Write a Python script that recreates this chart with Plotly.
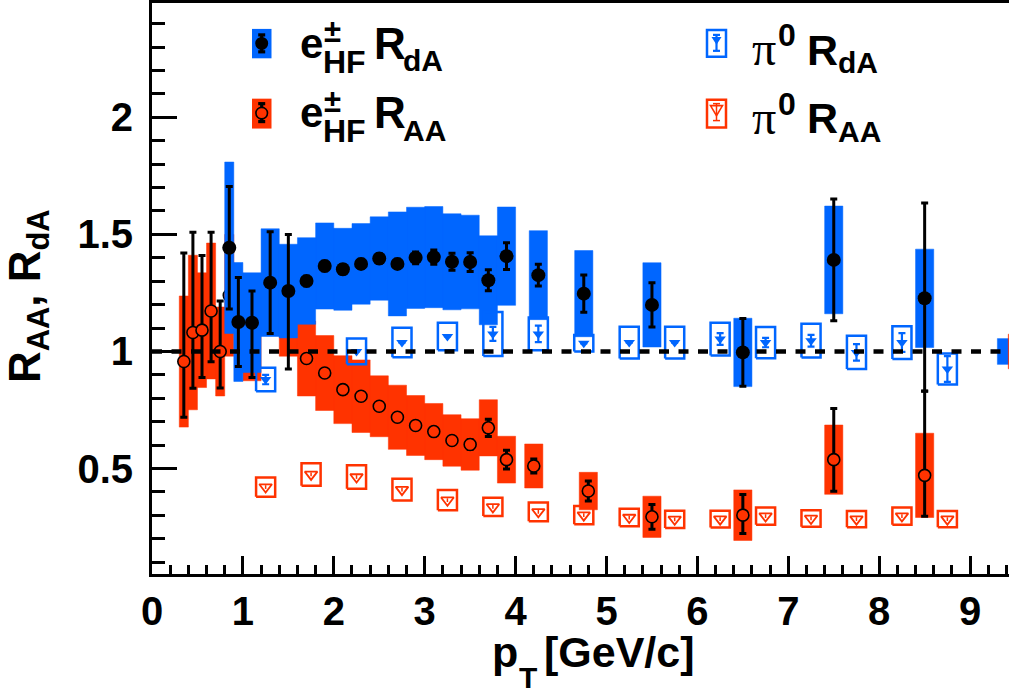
import plotly.graph_objects as go

# ---------------- data ----------------
# heavy-flavour electrons, d+Au
edA_pt = [0.85, 0.95, 1.1, 1.3, 1.5, 1.7, 1.9, 2.1, 2.3, 2.5, 2.7, 2.9, 3.1, 3.3, 3.5,
          3.7, 3.9, 4.25, 4.75, 5.5, 6.5, 7.5, 8.5]
edA_val = [1.443, 1.126, 1.123, 1.294, 1.258, 1.301, 1.365, 1.351, 1.374, 1.397, 1.374,
           1.400, 1.403, 1.383, 1.382, 1.304, 1.407, 1.326, 1.247, 1.199, 0.996, 1.391, 1.227]
edA_stat_hi = [0.262, 0.19, 0.135, 0.217, 0.242, 0.02, 0.02, 0.02, 0.02, 0.02, 0.02,
               0.025, 0.03, 0.036, 0.04, 0.045, 0.057, 0.046, 0.08, 0.094, 0.145, 0.26, 0.407]
edA_stat_lo = [0.262, 0.19, 0.234, 0.217, 0.333, 0.02, 0.02, 0.02, 0.02, 0.02, 0.02,
               0.025, 0.03, 0.036, 0.04, 0.045, 0.057, 0.046, 0.08, 0.094, 0.145, 0.26, 0.397]
edA_sys = [0.366, 0.254, 0.213, 0.23, 0.2, 0.185, 0.184, 0.175, 0.172, 0.178, 0.222,
           0.216, 0.216, 0.205, 0.2, 0.19, 0.21, 0.19, 0.184, 0.18, 0.146, 0.23, 0.21]

# heavy-flavour electrons, Au+Au
eAA_pt = [0.35, 0.45, 0.55, 0.65, 0.75, 0.85, 1.1, 1.5, 1.7, 1.9, 2.1, 2.3, 2.5, 2.7,
          2.9, 3.1, 3.3, 3.5, 3.7, 3.9, 4.2, 4.8, 5.5, 6.5, 7.5, 8.5]
eAA_val = [0.957, 1.081, 1.091, 1.173, 1.0, 1.24, 1.1, 1.2, 0.970, 0.908, 0.837, 0.809,
           0.766, 0.719, 0.684, 0.658, 0.620, 0.603, 0.674, 0.538, 0.511, 0.404, 0.294,
           0.301, 0.538, 0.471]
eAA_stat_hi = [0.464, 0.428, 0.319, 0.336, 0.216, 0.1, 0.1, 0.1, 0.015, 0.015, 0.015,
               0.015, 0.015, 0.015, 0.015, 0.015, 0.015, 0.02, 0.037, 0.04, 0.03, 0.043,
               0.053, 0.088, 0.219, 0.36]
eAA_stat_lo = [0.238, 0.238, 0.202, 0.217, 0.156, 0.1, 0.1, 0.1, 0.015, 0.015, 0.015,
               0.015, 0.015, 0.015, 0.015, 0.015, 0.015, 0.02, 0.037, 0.04, 0.03, 0.043,
               0.053, 0.078, 0.135, 0.175]
eAA_sys = [0.28, 0.33, 0.245, 0.29, 0.19, 0.26, 0.225, 0.22, 0.16, 0.16, 0.145, 0.155,
           0.13, 0.137, 0.128, 0.12, 0.11, 0.11, 0.12, 0.1, 0.094, 0.08, 0.088, 0.108,
           0.148, 0.18]

# neutral pions, d+Au (None: statistical error smaller than the marker)
pidA_pt = [1.25, 2.25, 2.75, 3.25, 3.75, 4.25, 4.75, 5.25, 5.75, 6.25, 6.75, 7.25,
           7.75, 8.25, 8.75]
pidA_val = [0.88, 1.0, 1.038, 1.064, 1.075, 1.075, 1.035, 1.038, 1.038, 1.053, 1.038,
            1.046, 0.996, 1.038, 0.925]
pidA_stat = [0.02, None, None, None, 0.03, 0.035, None, None, None, 0.025, 0.02,
             0.025, 0.035, 0.04, 0.055]
pidA_sys = [0.05, 0.055, 0.063, 0.059, 0.094, 0.07, 0.035, 0.068, 0.068, 0.07, 0.067,
            0.072, 0.071, 0.07, 0.066]

# neutral pions, Au+Au
piAA_pt = [1.25, 1.75, 2.25, 2.75, 3.25, 3.75, 4.25, 4.75, 5.25, 5.75, 6.25, 6.75,
           7.25, 7.75, 8.25, 8.75]
piAA_val = [0.421, 0.475, 0.464, 0.41, 0.365, 0.336, 0.315, 0.301, 0.291, 0.283, 0.284,
            0.297, 0.287, 0.284, 0.297, 0.284]
piAA_stat = [0.008] * 16
piAA_sys = [0.041, 0.048, 0.05, 0.046, 0.043, 0.039, 0.04, 0.039, 0.037, 0.037, 0.036,
            0.037, 0.035, 0.035, 0.037, 0.035]

# global normalisation uncertainties (drawn at unity, right edge)
norm_labels = ["dA", "AA"]
norm_pt = [9.4, 9.52]
norm_unc = [0.055, 0.074]

x_ticks = [0, 1, 2, 3, 4, 5, 6, 7, 8, 9]
y_ticks = [0.5, 1, 1.5, 2]
y_tick_text = ["0.5", "1", "1.5", "2"]

# ---------------- style ----------------
BLUE = "#0066ff"
RED = "#ff3300"
FONT = "Liberation Sans, Arial, Helvetica, sans-serif"
SERIF = "Liberation Serif, Times New Roman, serif"

W, H = 1009, 694
ML, MT, MB = 152, 1, 120
PW, PH = W - ML, H - MT - MB
X_PER_GEV = 90.9
Y_PER_UNIT = 235.0
Y_ONE_PX = 350.7
x_range = [0, PW / X_PER_GEV]
y_range = [1 - (MT + PH - Y_ONE_PX) / Y_PER_UNIT, 1 + (Y_ONE_PX - MT) / Y_PER_UNIT]


def box_outline(xs, ys, half_w, half_h):
    """Closed rectangles around each point, separated by gaps."""
    bx, by = [], []
    for x, y, w, h in zip(xs, ys, half_w, half_h):
        bx += [x - w, x + w, x + w, x - w, x - w, None]
        by += [y - h, y - h, y + h, y + h, y - h, None]
    return bx, by


def sys_half_width(pts):
    return [0.05 if p < 1 else 0.1 for p in pts]


fig = go.Figure()

# Au+Au electron systematics and points
bx, by = box_outline(eAA_pt, eAA_val, sys_half_width(eAA_pt), eAA_sys)
fig.add_trace(go.Scatter(x=bx, y=by, mode="lines", fill="toself", fillcolor=RED,
                         line=dict(color=RED, width=0.5), hoverinfo="skip"))
fig.add_trace(go.Scatter(
    x=eAA_pt, y=eAA_val, mode="markers",
    marker=dict(symbol="circle", size=12, color=RED, line=dict(color="black", width=1.6)),
    error_y=dict(type="data", symmetric=False, array=eAA_stat_hi, arrayminus=eAA_stat_lo,
                 color="black", thickness=3, width=3.5)))

# d+Au electron systematics
bx, by = box_outline(edA_pt, edA_val, sys_half_width(edA_pt), edA_sys)
fig.add_trace(go.Scatter(x=bx, y=by, mode="lines", fill="toself", fillcolor=BLUE,
                         line=dict(color=BLUE, width=0.5), hoverinfo="skip"))

# pion systematics (open boxes) and points
bx, by = box_outline(pidA_pt, pidA_val, [0.105] * len(pidA_pt), pidA_sys)
fig.add_trace(go.Scatter(x=bx, y=by, mode="lines", line=dict(color=BLUE, width=2.5),
                         hoverinfo="skip"))
bx, by = box_outline(piAA_pt, piAA_val, [0.105] * len(piAA_pt), piAA_sys)
fig.add_trace(go.Scatter(x=bx, y=by, mode="lines", line=dict(color=RED, width=2.5),
                         hoverinfo="skip"))
fig.add_trace(go.Scatter(
    x=pidA_pt, y=pidA_val, mode="markers",
    marker=dict(symbol="triangle-down", size=10, color=BLUE, line=dict(width=0)),
    error_y=dict(type="data", array=pidA_stat, color=BLUE, thickness=2.2, width=3.5)))
fig.add_trace(go.Scatter(
    x=piAA_pt, y=piAA_val, mode="markers",
    marker=dict(symbol="triangle-down-open", size=11, color=RED, line=dict(width=1.8)),
    error_y=dict(type="data", array=piAA_stat, color=RED, thickness=1.5, width=0)))

# d+Au electron points
fig.add_trace(go.Scatter(
    x=edA_pt, y=edA_val, mode="markers",
    marker=dict(symbol="circle", size=14, color="black"),
    error_y=dict(type="data", symmetric=False, array=edA_stat_hi, arrayminus=edA_stat_lo,
                 color="black", thickness=3, width=3.5)))

# normalisation boxes at unity
for lab, xc, u in zip(norm_labels, norm_pt, norm_unc):
    bx, by = box_outline([xc], [1.0], [0.1], [u])
    col = BLUE if lab == "dA" else RED
    fig.add_trace(go.Scatter(x=bx, y=by, mode="lines", fill="toself", fillcolor=col,
                             line=dict(color=col, width=0.5), hoverinfo="skip"))


# ---------------- legend (drawn in pixel space) ----------------
def fx(px):
    return (px - ML) / PW


def fy(py):
    return (MT + PH - py) / PH


shapes = []
# unity reference line
shapes.append(dict(type="line", xref="paper", yref="y", x0=0, x1=1, y0=1, y1=1,
                   line=dict(color="black", width=4.5, dash="10px,9.5px"), layer="above"))


def err_glyph(cx, top, bot, col, thick, cap):
    out = [dict(type="line", xref="paper", yref="paper", x0=fx(cx), x1=fx(cx),
                y0=fy(bot), y1=fy(top), line=dict(color=col, width=thick))]
    for yy in (top, bot):
        out.append(dict(type="line", xref="paper", yref="paper", x0=fx(cx - cap),
                        x1=fx(cx + cap), y0=fy(yy), y1=fy(yy),
                        line=dict(color=col, width=thick)))
    return out


def rect(x0, x1, y0, y1, fill=None, line_col=None, lw=0):
    d = dict(type="rect", xref="paper", yref="paper", x0=fx(x0), x1=fx(x1),
             y0=fy(y1), y1=fy(y0), line=dict(width=lw, color=line_col or "rgba(0,0,0,0)"))
    if fill:
        d["fillcolor"] = fill
    return d


def circle(cx, cy, r, fill, line_col, lw):
    return dict(type="circle", xref="paper", yref="paper", x0=fx(cx - r), x1=fx(cx + r),
                y0=fy(cy + r), y1=fy(cy - r), fillcolor=fill,
                line=dict(color=line_col, width=lw))


def tri(cx, cy, w, h, fill, line_col, lw):
    p = "M {} {} L {} {} L {} {} Z".format(fx(cx - w / 2), fy(cy - h / 2), fx(cx + w / 2),
                                             fy(cy - h / 2), fx(cx), fy(cy + h / 2))
    d = dict(type="path", xref="paper", yref="paper", path=p,
             line=dict(color=line_col, width=lw))
    d["fillcolor"] = fill if fill else "rgba(0,0,0,0)"
    return d


# e± d+Au key
shapes.append(rect(252, 271.5, 27, 56.5, fill=BLUE))
shapes += err_glyph(261.7, 33, 50, "black", 3.2, 3.5)
shapes.append(circle(261.7, 41.5, 6.5, "black", "black", 0))
# e± Au+Au key
shapes.append(rect(252, 271.5, 97, 127, fill=RED))
shapes += err_glyph(261.7, 102, 120, "black", 3.2, 3.5)
shapes.append(circle(261.7, 111.5, 5.8, RED, "black", 1.6))
# π0 d+Au key
shapes.append(rect(707, 726, 28, 55, line_col=BLUE, lw=2.5))
shapes += err_glyph(716.5, 33, 49, BLUE, 2.2, 3.5)
shapes.append(tri(716.5, 39, 10, 8, BLUE, BLUE, 0))
# π0 Au+Au key
shapes.append(rect(707, 726, 98, 126, line_col=RED, lw=2.5))
shapes += err_glyph(716.5, 102, 119, RED, 1.5, 3.5)
shapes.append(tri(716.5, 109, 12, 10, None, RED, 1.6))

annotations = []


def txt(s, px, py_center, size, family=FONT, bold=True, anchor="left", angle=0):
    annotations.append(dict(text=("<b>%s</b>" % s) if bold else s, xref="paper",
                            yref="paper", x=fx(px), y=fy(py_center), xanchor=anchor,
                            yanchor="middle", showarrow=False, textangle=angle,
                            font=dict(family=family, size=size, color="black")))


for lab, dy in (("dA", 0), ("AA", 69.5)):
    txt("e", 298, 41.5 + dy, 42)
    txt("±", 321.5, 30 + dy, 31)
    txt("HF", 321, 60.2 + dy, 32)
    txt("R", 372, 41.2 + dy, 44)
    txt(lab, 401, 59.2 + dy, 30)

for lab, dy in (("dA", 0), ("AA", 69)):
    txt("π", 750, 46.8 + dy, 48, family=SERIF, bold=False)
    txt("0", 776, 33.5 + dy, 32)
    txt("R", 805, 47.8 + dy, 43)
    txt(lab, 836, 61 + dy, 30)

# axis titles
txt("p", 490, 652, 43)
txt("T", 517, 678, 30)
txt("[GeV/c]", 542, 652, 43)
txt("R<sub>AA</sub>, R<sub>dA</sub>", 28, 295, 44, anchor="center", angle=-90)

fig.update_layout(
    width=W, height=H,
    margin=dict(l=ML, r=0, t=MT, b=MB, pad=0),
    paper_bgcolor="white", plot_bgcolor="white",
    showlegend=False,
    shapes=shapes, annotations=annotations,
    xaxis=dict(range=x_range, tickmode="array", tickvals=x_ticks,
               ticktext=[str(t) for t in x_ticks], ticks="inside", ticklen=18, tickwidth=2.5,
               tickcolor="black", showline=True, linecolor="black", linewidth=3,
               mirror=True, showgrid=False, zeroline=False,
               tickfont=dict(family=FONT, size=40, color="black", weight="bold"),
               minor=dict(dtick=0.2, tick0=0, ticks="inside", ticklen=9, tickwidth=2.5,
                          tickcolor="black", showgrid=False)),
    yaxis=dict(range=y_range, tickmode="array", tickvals=y_ticks, ticktext=y_tick_text,
               ticks="inside", ticklen=25, tickwidth=2.5, tickcolor="black",
               showline=True, linecolor="black", linewidth=3, mirror=False,
               showgrid=False, zeroline=False, ticklabelstandoff=8,
               tickfont=dict(family=FONT, size=40, color="black", weight="bold"),
               minor=dict(dtick=0.1, tick0=0, ticks="inside", ticklen=13, tickwidth=2.5,
                          tickcolor="black", showgrid=False)),
)

fig.write_html("out.html")
